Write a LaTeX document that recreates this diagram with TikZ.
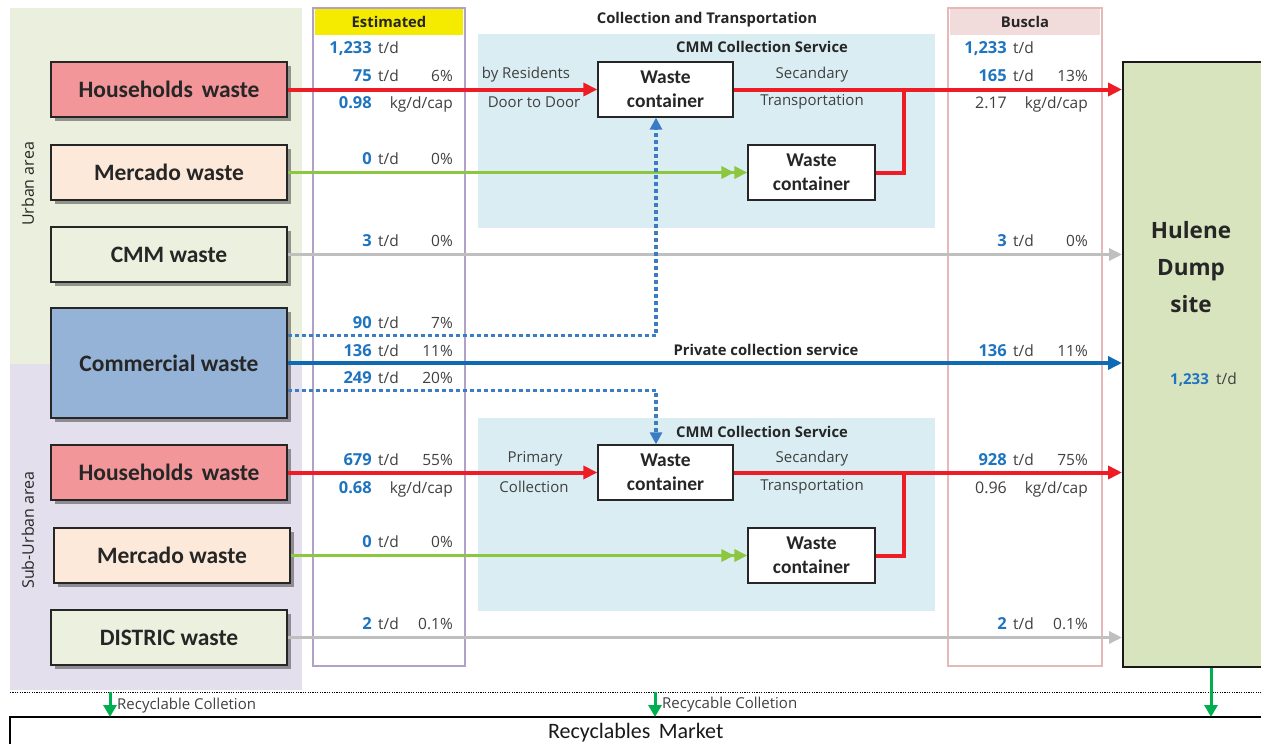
\documentclass[tikz,border=0pt]{standalone}
\usepackage{fontspec}
\setmainfont{Open Sans}
\newfontfamily\boxfont{Carlito}
\usetikzlibrary{arrows.meta,calc,shadows}

\definecolor{urbanbg}{HTML}{EBF0DE}
\definecolor{suburbbg}{HTML}{E4DFEC}
\definecolor{svcbg}{HTML}{DAEDF3}
\definecolor{hhfill}{HTML}{F2969A}
\definecolor{mcfill}{HTML}{FDE9D9}
\definecolor{cmmfill}{HTML}{EBF1DE}
\definecolor{comfill}{HTML}{95B3D7}
\definecolor{dumpfill}{HTML}{D7E4BD}
\definecolor{estframe}{HTML}{B1A0C7}
\definecolor{estfill}{HTML}{F5EB00}
\definecolor{busframe}{HTML}{E6B9B8}
\definecolor{busfill}{HTML}{F2DCDB}
\definecolor{flowred}{HTML}{EE1C25}
\definecolor{flowgreen}{HTML}{8DC63F}
\definecolor{flowgray}{HTML}{BFBFBF}
\definecolor{flowblue}{HTML}{0F6AB4}
\definecolor{dotblue}{HTML}{3B7CC4}
\definecolor{numblue}{HTML}{1F74C0}
\definecolor{txtgray}{HTML}{404040}
\definecolor{recgreen}{HTML}{00B050}

\tikzset{
  srcbox/.style={draw=black!85, line width=1.3pt, minimum width=236pt, minimum height=55pt,
    inner sep=0pt, text=black!85, font=\boxfont\bfseries\fontsize{23.5}{28}\selectfont,
    drop shadow={shadow xshift=3.5pt, shadow yshift=-3.5pt, opacity=0.45, fill=black!85}},
  wcbox/.style={draw=black!85, fill=white, line width=1.3pt, minimum height=55pt, inner sep=0pt,
    align=center, text=black!85, font=\boxfont\bfseries\fontsize{19.5}{24}\selectfont},
  numtxt/.style={inner sep=0pt, text=numblue, font=\bfseries\fontsize{16.5}{20}\selectfont},
  plainnum/.style={inner sep=0pt, text=txtgray, font=\fontsize{16}{19}\selectfont},
  unittxt/.style={inner sep=0pt, text=txtgray, font=\fontsize{15.5}{18}\selectfont},
  headtxt/.style={inner sep=0pt, text=black!85, font=\bfseries\fontsize{14.8}{18}\selectfont},
  lbltxt/.style={inner sep=0pt, text=txtgray, font=\fontsize{15}{18}\selectfont},
  redarrow/.style={draw=flowred, line width=4pt, -{Triangle[length=14pt,width=13pt]}},
  redline/.style={draw=flowred, line width=4pt, line join=miter},
  greenarrow/.style={draw=flowgreen, line width=3.5pt,
    -{Triangle[length=13pt,width=12pt] Triangle[length=13pt,width=12pt]}},
  grayarrow/.style={draw=flowgray, line width=3.5pt, -{Triangle[length=13pt,width=12pt]}},
  bluearrow/.style={draw=flowblue, line width=4pt, -{Triangle[length=14pt,width=13pt]}},
  dotarrow/.style={draw=dotblue, line width=3.5pt, dash pattern=on 4pt off 3pt,
    -{Triangle[length=12pt,width=12pt]}},
  recarrow/.style={draw=recgreen, line width=3pt, -{Triangle[length=12pt,width=13pt]}},
}

% one row of tonnage figures: name, right edge of number, text centre y, number, share
\newcommand\flowrow[5]{%
  \node[numtxt, anchor=base east] (#1n) at (#2,#3+6) {#4};
  \node[unittxt, anchor=base west] (#1u) at (#2+6,#3+6) {t/d};
  \node[unittxt, anchor=base east] (#1p) at (#2+81,#3+6) {#5};}
% one row of per-capita figures: name, right edge of number, text centre y, number style, number
\newcommand\kgrow[5]{%
  \node[#4, anchor=base east] (#1n) at (#2,#3+6) {#5};
  \node[unittxt, anchor=base east] (#1u) at (#2+81,#3+6) {kg/d/cap};}
% widened word gap used in the source box labels
\newcommand\wgap{\hspace{0.38em}}

\begin{document}
\begin{tikzpicture}[x=1pt, y=-1pt]
\useasboundingbox (0,0) rectangle (1261,744);
\fill[white] (0,0) rectangle (1261,744);

% area backgrounds
\fill[urbanbg] (10,8) rectangle (302,364);
\fill[suburbbg] (10,364) rectangle (302,690);
\node[rotate=90, lbltxt, text=black!85, font=\fontsize{16}{19}\selectfont] (urbanlbl) at (28,184) {Urban area};
\node[rotate=90, lbltxt, text=black!85, font=\fontsize{16}{19}\selectfont] (suburblbl) at (28,530) {Sub-Urban area};

% collection service panels
\fill[svcbg] (478,34) rectangle (935,228);
\fill[svcbg] (478,418) rectangle (935,611);
\node[headtxt] (ctitle) at (707,20) {Collection and Transportation};
\node[headtxt] (svc1) at (762,47) {CMM Collection Service};
\node[headtxt] (svc2) at (762,432) {CMM Collection Service};

% figure columns
\node[draw=estframe, line width=2.5pt, minimum width=152pt, minimum height=658pt, inner sep=0pt] (estcol) at (389,337) {};
\node[fill=estfill, minimum width=148pt, minimum height=26pt, inner sep=0pt, headtxt] (esthead) at (389,22) {Estimated};
\node[draw=busframe, line width=2.5pt, minimum width=154pt, minimum height=658pt, inner sep=0pt] (buscol) at (1025,337) {};
\node[fill=busfill, minimum width=150pt, minimum height=26pt, inner sep=0pt, headtxt] (bushead) at (1025,22) {Buscla};

% waste sources
\node[srcbox, fill=hhfill] (hhU) at (169,89.5) {Households\wgap waste};
\node[srcbox, fill=mcfill] (mcU) at (169,172.5) {Mercado waste};
\node[srcbox, fill=cmmfill] (cmm) at (169,254.5) {CMM waste};
\node[srcbox, fill=comfill, minimum height=110pt] (com) at (169,363) {Commercial waste};
\node[srcbox, fill=hhfill] (hhS) at (169,472.5) {Households\wgap waste};
\node[srcbox, fill=mcfill] (mcS) at (172,555.5) {Mercado waste};
\node[srcbox, fill=cmmfill] (dis) at (169,637.5) {DISTRIC waste};

% waste containers
\node[wcbox, minimum width=135pt] (wc1) at (665.5,89.5) {Waste\\container};
\node[wcbox, minimum width=127pt] (wc2) at (811.5,172.5) {Waste\\container};
\node[wcbox, minimum width=135pt] (wc3) at (665.5,472.5) {Waste\\container};
\node[wcbox, minimum width=127pt] (wc4) at (811.5,555.5) {Waste\\container};

% dump site
\node[draw=black!90, line width=2pt, fill=dumpfill, minimum width=140pt, minimum height=605pt, inner sep=0pt] (dump) at (1193,364.5) {};
\node[align=center, text=black!85, font=\bfseries\fontsize{22.5}{37}\selectfont] (dumpname) at (1191,267) {Hulene\\Dump\\site};
\node[numtxt, font=\bfseries\fontsize{15}{18}\selectfont, anchor=base east] (dumpnum) at (1209,384) {1,233};
\node[unittxt, anchor=base west] (dumpunit) at (1216,384) {t/d};

% urban flows
\draw[redarrow] (hhU.east) -- (wc1.west);
\draw[redarrow] (wc1.east) -- (wc1.east -| dump.west);
\draw[redline] (wc2.east) -| ([xshift=28pt]wc2.east |- wc1.east);
\draw[greenarrow] (mcU.east) -- (wc2.west);
\draw[grayarrow] (cmm.east) -- (cmm.east -| dump.west);
\draw[dotarrow] ($(com.east)+(0,-27.5)$) -| ([xshift=-9.5pt]wc1.south);
\draw[bluearrow] (com.east) -- (com.east -| dump.west);
\draw[dotarrow] ($(com.east)+(0,27.5)$) -| ([xshift=-9.5pt]wc3.north);

% sub-urban flows
\draw[redarrow] (hhS.east) -- (wc3.west);
\draw[redarrow] (wc3.east) -- (wc3.east -| dump.west);
\draw[redline] (wc4.east) -| ([xshift=28pt]wc4.east |- wc3.east);
\draw[greenarrow] (mcS.east) -- (wc4.west);
\draw[grayarrow] (dis.east) -- (dis.east -| dump.west);

% flow labels
\node[lbltxt] (byres) at (526,75) {by Residents};
\node[lbltxt] (d2d) at (534,102) {Door to Door};
\node[lbltxt] (sec1) at (812,75) {Secandary};
\node[lbltxt] (tra1) at (812,102) {Transportation};
\node[headtxt] (private) at (766,350) {Private collection service};
\node[lbltxt] (prim) at (535,459) {Primary};
\node[lbltxt] (coll) at (534,487) {Collection};
\node[lbltxt] (sec2) at (812,459) {Secandary};
\node[lbltxt] (tra2) at (812,487) {Transportation};

% estimated figures
\flowrow{e1}{372}{47}{1,233}{}
\flowrow{e2}{372}{75}{75}{6\%}
\kgrow{k1}{372}{102}{numtxt}{0.98}
\flowrow{e3}{372}{158}{0}{0\%}
\flowrow{e4}{372}{240}{3}{0\%}
\flowrow{e5}{372}{322}{90}{7\%}
\flowrow{e6}{372}{350}{136}{11\%}
\flowrow{e7}{372}{377}{249}{20\%}
\flowrow{e8}{372}{459}{679}{55\%}
\kgrow{k2}{372}{487}{numtxt}{0.68}
\flowrow{e9}{372}{541}{0}{0\%}
\flowrow{e10}{372}{623}{2}{0.1\%}

% Buscla figures
\flowrow{b1}{1007}{47}{1,233}{}
\flowrow{b2}{1007}{75}{165}{13\%}
\kgrow{k3}{1007}{102}{plainnum}{2.17}
\flowrow{b3}{1007}{240}{3}{0\%}
\flowrow{b4}{1007}{350}{136}{11\%}
\flowrow{b5}{1007}{459}{928}{75\%}
\kgrow{k4}{1007}{487}{plainnum}{0.96}
\flowrow{b6}{1007}{623}{2}{0.1\%}

% recyclables market: only its top and left edges lie inside the page
\draw[black, line width=0.8pt, dash pattern=on 1.2pt off 1.2pt] (10,692) -- (1261,692);
\node[minimum width=1251pt, minimum height=31pt, inner sep=0pt, anchor=north west,
  text=black!90, font=\boxfont\fontsize{22}{26}\selectfont] (market) at (10,717) {Recyclables\wgap Market};
\draw[black, line width=1.2pt] (market.south west) -- (market.north west) -- (market.north east);
\coordinate (rc1) at (110,692);
\coordinate (rc2) at (655,692);
\draw[recarrow] (rc1) -- (rc1 |- market.north);
\draw[recarrow] (rc2) -- (rc2 |- market.north);
\draw[recarrow] ([xshift=18pt]dump.south) -- ([xshift=18pt]dump.south |- market.north);
\node[lbltxt, anchor=west] (rcl1) at (117,706) {Recyclable Colletion};
\node[lbltxt, anchor=west] (rcl2) at (662,705) {Recycable Colletion};
\end{tikzpicture}
\end{document}
